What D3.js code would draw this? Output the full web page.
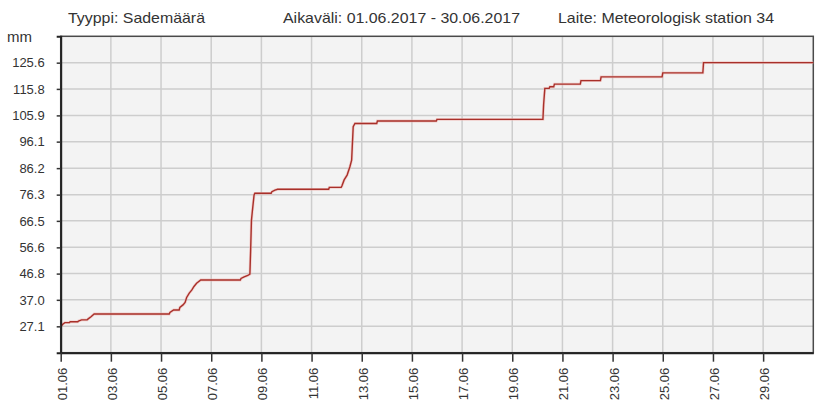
<!DOCTYPE html>
<html><head><meta charset="utf-8">
<script src="https://cdn.jsdelivr.net/npm/d3@7"></script>
<style>
body{margin:0;background:#fff}
svg{display:block}
text{font-family:"Liberation Sans",Arial,sans-serif;fill:#333}
</style>
</head><body>
<svg id="c" width="830" height="416"></svg>
<script>
// ---- data ----
const times = [
"2017-06-01 00:00","2017-06-01 02:00","2017-06-01 04:00","2017-06-01 09:00","2017-06-01 17:00","2017-06-01 20:00",
"2017-06-02 02:00","2017-06-02 05:00","2017-06-02 08:00",
"2017-06-05 08:30","2017-06-05 12:00","2017-06-05 18:00","2017-06-05 21:00","2017-06-05 23:00",
"2017-06-06 00:30","2017-06-06 03:00","2017-06-06 05:30","2017-06-06 07:30","2017-06-06 10:00","2017-06-06 14:00",
"2017-06-08 04:30","2017-06-08 07:30","2017-06-08 11:00","2017-06-08 13:00","2017-06-08 13:40","2017-06-08 14:30","2017-06-08 15:20","2017-06-08 17:00","2017-06-08 17:45",
"2017-06-09 10:00","2017-06-09 13:00","2017-06-09 15:30",
"2017-06-11 17:00",
"2017-06-12 05:00","2017-06-12 07:10","2017-06-12 10:00","2017-06-12 12:40","2017-06-12 14:20","2017-06-12 15:50","2017-06-12 17:30",
"2017-06-13 15:00",
"2017-06-16 00:00",
"2017-06-20 06:00","2017-06-20 07:10","2017-06-20 12:00","2017-06-20 16:20",
"2017-06-21 17:45",
"2017-06-22 13:00",
"2017-06-25 00:00",
"2017-06-26 15:00",
"2017-07-01 00:00"
];
const values = [
27.0,27.9,28.5,28.8,29.1,29.5,
29.8,30.7,31.7,
32.3,33.2,34.2,35.1,36.0,
37.9,39.5,40.7,42.0,43.2,44.4,
45.0,45.6,46.1,46.6,55.0,66.8,70.0,76.2,76.8,
77.4,78.0,78.3,
79.0,
79.5,81.8,83.6,86.7,89.2,101.7,102.9,
103.8,
104.4,
110.0,116.0,116.6,117.6,
118.9,
120.3,
121.8,
125.6,
125.6
];
const yTickValues = [27.1,37.0,46.8,56.6,66.5,76.3,86.2,96.1,105.9,115.8,125.6];
const yTickLabels = ["27.1","37.0","46.8","56.6","66.5","76.3","86.2","96.1","105.9","115.8","125.6"];
const xTickDates = ["2017-06-01","2017-06-03","2017-06-05","2017-06-07","2017-06-09","2017-06-11","2017-06-13","2017-06-15","2017-06-17","2017-06-19","2017-06-21","2017-06-23","2017-06-25","2017-06-27","2017-06-29"];
const xDomain = ["2017-06-01 00:00","2017-07-01 00:00"];
const yDomain = [17.25,135.45];
const titles = ["Tyyppi: Sademäärä","Aikaväli: 01.06.2017 - 30.06.2017","Laite: Meteorologisk station 34"];
const unitLabel = "mm";

// ---- layout ----
const L = 60.7, R = 813.3, T = 36.3, B = 352.7;
const parseT = d3.utcParse("%Y-%m-%d %H:%M");
const parseD = d3.utcParse("%Y-%m-%d");
const fmt = d3.utcFormat("%d.%m");

const x = d3.scaleUtc().domain(xDomain.map(parseT)).range([L, R]);
const y = d3.scaleLinear().domain(yDomain).range([B, T]);

const svg = d3.select("#c");
svg.append("rect").attr("width",830).attr("height",416).attr("fill","#fff");

// plot background
svg.append("rect").attr("x",L).attr("y",T).attr("width",R-L).attr("height",B-T).attr("fill","#f3f3f3");

// grid
const grid = svg.append("g").attr("stroke","#cdcdcd").attr("stroke-width",1.5);
grid.selectAll("line.h").data(yTickValues).join("line")
  .attr("x1",L).attr("x2",R).attr("y1",d=>y(d)).attr("y2",d=>y(d));
grid.selectAll("line.v").data(xTickDates.slice(1)).join("line")
  .attr("y1",T).attr("y2",B).attr("x1",d=>x(parseD(d))).attr("x2",d=>x(parseD(d)));

// border
svg.append("rect").attr("x",L).attr("y",T).attr("width",R-L).attr("height",B-T)
  .attr("fill","none").attr("stroke","#4a4a4a").attr("stroke-width",1.5);

// line: value held between readings when the gap is long, sloped for close readings
const raw = times.map((t,i)=>({t:parseT(t), v:values[i]}));
const HOLD = 4*3600*1000, LEAD = 40*60*1000;
const pts = [];
raw.forEach((p,i)=>{
  if(i>0 && (p.t - raw[i-1].t) > HOLD){
    pts.push({t:new Date(+p.t - LEAD), v:raw[i-1].v});
  }
  pts.push(p);
});
const line = d3.line().x(d=>x(d.t)).y(d=>y(d.v));
svg.append("path").datum(pts).attr("d",line)
  .attr("fill","none").attr("stroke","#f0b4b0").attr("stroke-width",2.8).attr("stroke-opacity",0.6);
svg.append("path").datum(pts).attr("d",line)
  .attr("fill","none").attr("stroke","#a8302a").attr("stroke-width",1.4);

// axes
const yAxis = d3.axisLeft(y).tickValues(yTickValues).tickFormat((d,i)=>yTickLabels[i]).tickSize(4).tickPadding(12);
const gy = svg.append("g").attr("transform",`translate(${L},0)`).call(yAxis);
gy.select(".domain").attr("stroke","#222").attr("stroke-width",2);
gy.selectAll(".tick line").attr("stroke","#333").attr("stroke-width",1.5);
gy.selectAll(".tick text").attr("font-size",13).attr("font-family",'"Liberation Sans",Arial,sans-serif').attr("fill","#333");

const xAxis = d3.axisBottom(x).tickValues(xTickDates.map(parseD)).tickFormat(fmt).tickSize(9).tickSizeOuter(0);
const gx = svg.append("g").attr("transform",`translate(0,${B})`).call(xAxis);
gx.select(".domain").attr("stroke","#222").attr("stroke-width",2);
gx.selectAll(".tick line").attr("stroke","#333").attr("stroke-width",1.5);
gx.selectAll(".tick text")
  .attr("font-size",13).attr("font-family",'"Liberation Sans",Arial,sans-serif').attr("fill","#333")
  .attr("text-anchor","end").attr("transform","translate(1,15) rotate(-90)")
  .attr("x",0).attr("y",0).attr("dy","0.35em");

// titles
const titleX = [68, 283, 558];
const titleW = [137, 237, 216];
svg.selectAll("text.title").data(titles).join("text").attr("class","title")
  .attr("x",(d,i)=>titleX[i]).attr("y",23).attr("font-size",15)
  .attr("textLength",(d,i)=>titleW[i]).attr("lengthAdjust","spacingAndGlyphs")
  .attr("fill","#333").text(d=>d);

svg.append("text").attr("x",7).attr("y",42).attr("font-size",15).attr("fill","#333").text(unitLabel);
</script>
</body></html>
